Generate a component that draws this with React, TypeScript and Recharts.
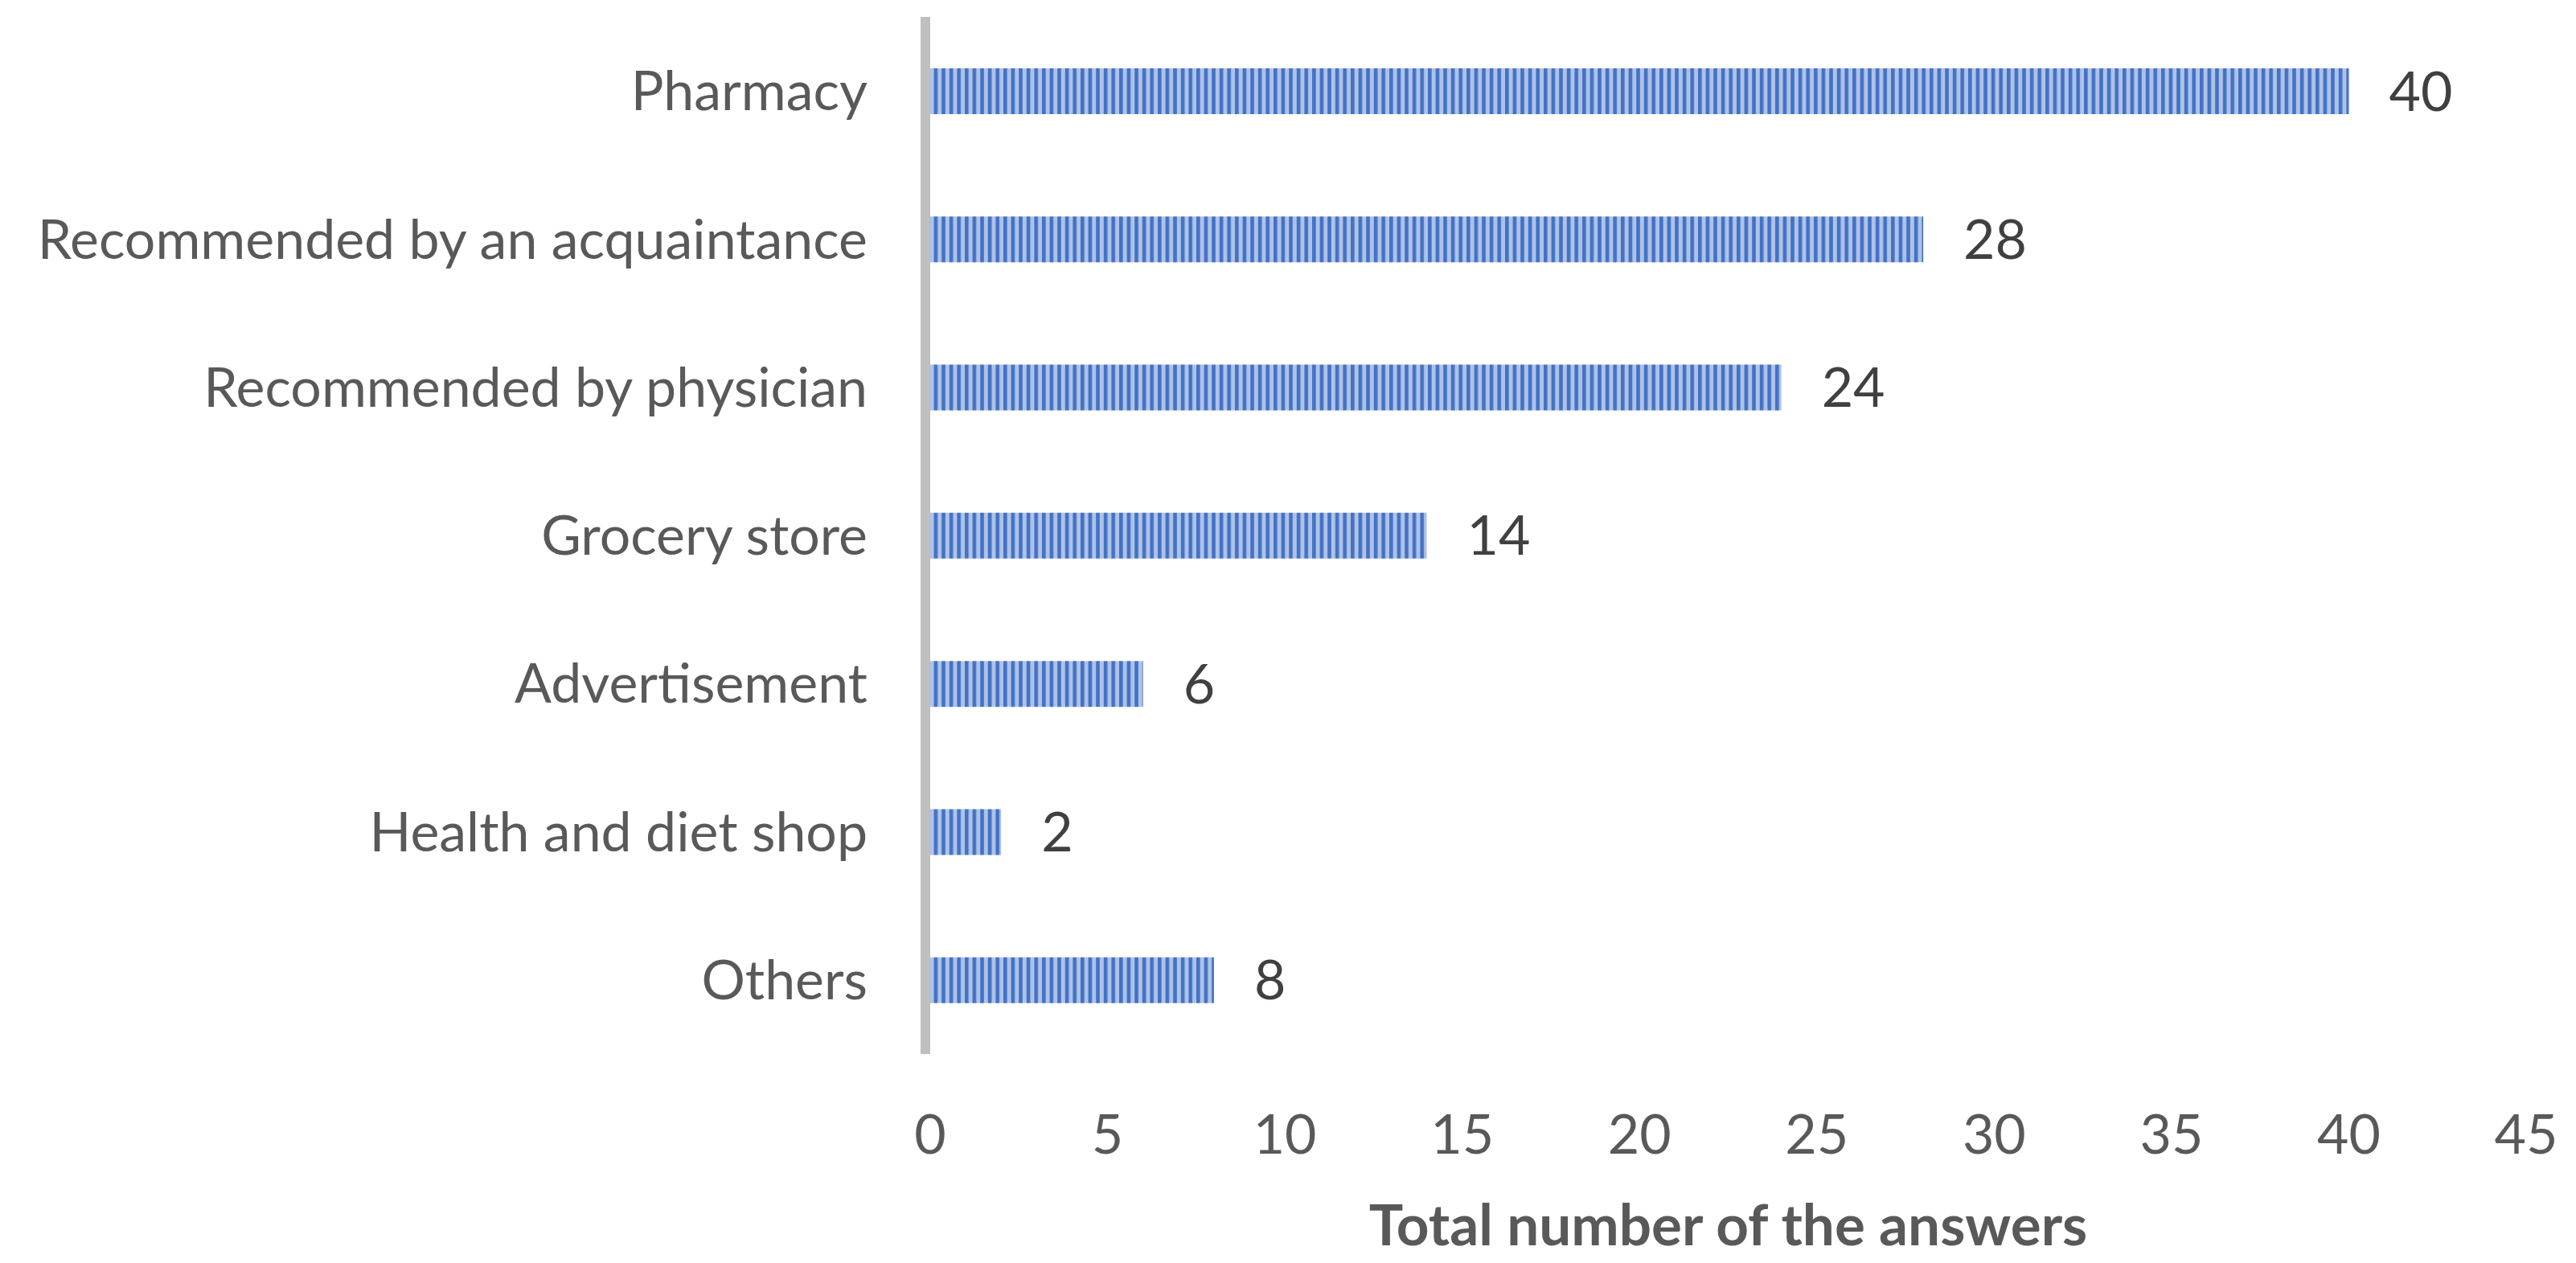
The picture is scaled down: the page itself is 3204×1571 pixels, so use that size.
import React from 'react';
import { BarChart, Bar, XAxis, YAxis, LabelList, ReferenceLine } from 'recharts';

const categories = [
  'Pharmacy',
  'Recommended by an acquaintance',
  'Recommended by physician',
  'Grocery store',
  'Advertisement',
  'Health and diet shop',
  'Others',
];
const answers = [40, 28, 24, 14, 6, 2, 8];
const xTicks = [0, 5, 10, 15, 20, 25, 30, 35, 40, 45];

const data = categories.map((name, i) => ({ name, value: answers[i] }));

const FONT = 'Lato, "Liberation Sans", sans-serif';

// grey vertical axis sits just left of the bars
const AxisBar = (p: any) => (
  <line x1={p.x1 - 6} y1={p.y1} x2={p.x2 - 6} y2={p.y2} stroke="#bfbfbf" strokeWidth={12} />
);

const App = () => {
  return (
    <div style={{ position: 'absolute', left: 0, top: 0, background: '#fff' }}>
      <BarChart
        width={3204}
        height={1571}
        data={data}
        layout="vertical"
        barSize={57}
        margin={{ top: 21, right: 62, bottom: 0, left: 0 }}
        style={{ fontFamily: FONT }}
      >
        <defs>
          <pattern id="stripes" patternUnits="userSpaceOnUse" width={9.6} height={60}>
            <rect x={0} y={0} width={9.6} height={60} fill="#aec2e8" />
            <rect x={0} y={0} width={4.6} height={60} fill="#4472c4" />
          </pattern>
        </defs>
        <XAxis
          type="number"
          domain={[0, 45]}
          ticks={xTicks}
          axisLine={false}
          tickLine={false}
          tickSize={0}
          tickMargin={76}
          height={260}
          tick={{ fill: '#595959', fontSize: 68, fontFamily: FONT }}
          label={{
            value: 'Total number of the answers',
            position: 'insideBottom',
            offset: 22,
            fill: '#595959',
            fontSize: 71,
            fontWeight: 'bold',
            fontFamily: FONT,
          }}
        />
        <YAxis
          type="category"
          dataKey="name"
          width={1157}
          axisLine={false}
          tickLine={false}
          tickSize={0}
          tickMargin={78}
          tick={{ fill: '#595959', fontSize: 68, fontFamily: FONT }}
        />
        <Bar dataKey="value" fill="url(#stripes)" isAnimationActive={false}>
          <LabelList
            dataKey="value"
            position="right"
            offset={50}
            fill="#404040"
            fontSize={68}
            fontFamily={FONT}
          />
        </Bar>
        <ReferenceLine x={0} shape={AxisBar} />
      </BarChart>
    </div>
  );
};

export default App;
